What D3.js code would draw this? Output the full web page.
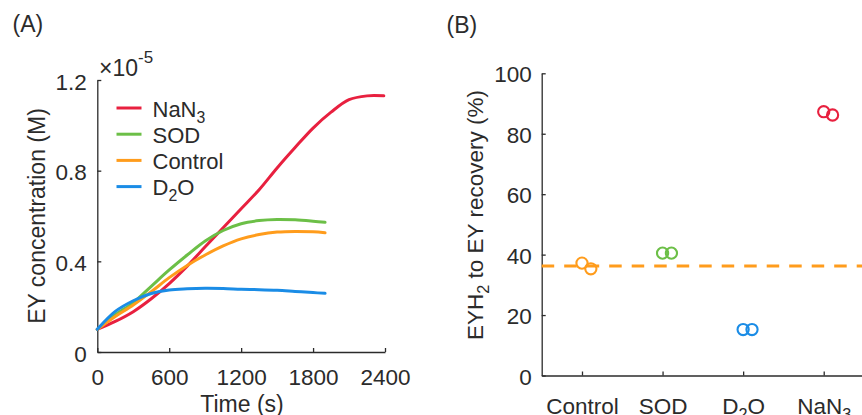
<!DOCTYPE html>
<html>
<head>
<meta charset="utf-8">
<script src="https://cdn.jsdelivr.net/npm/d3@7"></script>
<style>
  html, body { margin: 0; padding: 0; background: #fff; }
  svg { display: block; font-family: "Liberation Sans", Arial, sans-serif; }
</style>
</head>
<body>
<svg id="fig" width="862" height="415"></svg>
<script>
// ---- Panel A: EY concentration over time (values in units of 1e-5 M) ----
const timeShort = [0, 150, 300, 450, 600, 750, 900, 1050, 1200, 1350, 1500, 1650, 1800, 1900];
const timeLong  = [0, 150, 300, 450, 600, 750, 900, 1050, 1200, 1350, 1500, 1650, 1800, 1950, 2100, 2250, 2390];
const nan3Conc    = [0.100, 0.135, 0.178, 0.235, 0.302, 0.379, 0.464, 0.548, 0.632, 0.716, 0.812, 0.902, 0.988, 1.058, 1.113, 1.130, 1.130];
const sodConc     = [0.100, 0.164, 0.218, 0.290, 0.362, 0.428, 0.490, 0.536, 0.566, 0.580, 0.585, 0.583, 0.577, 0.572];
const controlConc = [0.100, 0.157, 0.207, 0.266, 0.328, 0.382, 0.428, 0.468, 0.499, 0.518, 0.529, 0.532, 0.530, 0.526];
const d2oConc     = [0.100, 0.179, 0.226, 0.258, 0.274, 0.279, 0.281, 0.280, 0.277, 0.275, 0.272, 0.267, 0.262, 0.259];
const seriesNames = ["NaN_3", "SOD", "Control", "D_2O"];
const timeTicks = [0, 600, 1200, 1800, 2400];
const concTicks = [0, 0.4, 0.8, 1.2];

// ---- Panel B: EYH2 -> EY recovery (%), two replicates per condition ----
const categories = ["Control", "SOD", "D_2O", "NaN_3"];
const recoveryRep1 = [37.2, 40.5, 15.2, 87.3];
const recoveryRep2 = [35.3, 40.5, 15.2, 86.2];
const recoveryTicks = [0, 20, 40, 60, 80, 100];

const colors = { "NaN_3": "#E8203F", "SOD": "#6CBF47", "Control": "#FF9C1C", "D_2O": "#1A8CE6" };
const ink = "#2b2b2b";
const fontSize = 22.5;

const svg = d3.select("#fig");
svg.append("rect").attr("width", 862).attr("height", 415).attr("fill", "#fff");

// Writes "X_2Y" style strings as text with a lowered, smaller subscript.
function richText(sel, str, size) {
  sel.text(null);
  const parts = str.split(/_(\d)/);
  const shift = size * 0.28;
  let pending = 0;
  parts.forEach((p, i) => {
    if (!p) return;
    if (i % 2 === 1) {
      sel.append("tspan").attr("font-size", size * 0.72).attr("dy", shift + pending).text(p);
      pending = -shift;
    } else {
      const ts = sel.append("tspan").text(p);
      if (pending) ts.attr("dy", pending);
      pending = 0;
    }
  });
}

function styleAxis(g) {
  g.select(".domain").attr("stroke", ink).attr("stroke-width", 1.3);
  g.selectAll(".tick line").attr("stroke", ink).attr("stroke-width", 1.3);
  g.selectAll(".tick text").attr("fill", ink).attr("font-size", fontSize)
    .attr("font-family", "'Liberation Sans', Arial, sans-serif");
}

// ================= Panel A =================
const xA = d3.scaleLinear().domain([0, 2400]).range([97.3, 385]);
const yA = d3.scaleLinear().domain([0, 1.2]).range([352, 80]);

const gA = svg.append("g");

gA.append("g")
  .attr("transform", `translate(0,${yA(0)})`)
  .call(d3.axisBottom(xA).tickValues(timeTicks).tickFormat(d3.format("d"))
    .tickSizeInner(-4).tickSizeOuter(0).tickPadding(0))
  .call(styleAxis)
  .call(g => g.selectAll(".tick text").attr("dy", null).attr("y", 33));

gA.append("g")
  .attr("transform", `translate(${xA(0)},0)`)
  .call(d3.axisLeft(yA).tickValues(concTicks).tickFormat(d => d === 0 ? "0" : d3.format(".1f")(d))
    .tickSizeInner(-4).tickSizeOuter(0).tickPadding(10.5))
  .call(styleAxis)
  .call(g => g.selectAll(".tick text").attr("dy", null).attr("y", 9));

// exponent multiplier above the y axis
const mult = gA.append("text").attr("x", 99).attr("y", 75.5).attr("fill", ink).attr("font-size", 23);
mult.append("tspan").text("\u00D710");
mult.append("tspan").attr("font-size", 17).attr("dy", -13).text("-5");

const lineA = d3.line().x(d => xA(d[0])).y(d => yA(d[1])).curve(d3.curveCatmullRom.alpha(0.5));
const seriesA = [
  { name: "NaN_3", t: timeLong, v: nan3Conc },
  { name: "SOD", t: timeShort, v: sodConc },
  { name: "Control", t: timeShort, v: controlConc },
  { name: "D_2O", t: timeShort, v: d2oConc }
];
seriesA.forEach(s => {
  gA.append("path")
    .datum(s.t.map((t, i) => [t, s.v[i]]))
    .attr("fill", "none")
    .attr("stroke", colors[s.name])
    .attr("stroke-width", 3)
    .attr("stroke-linejoin", "round")
    .attr("stroke-linecap", "round")
    .attr("d", lineA);
});

// legend
const legend = gA.append("g").attr("transform", "translate(116.5,108)");
seriesNames.forEach((name, i) => {
  const row = legend.append("g").attr("transform", `translate(0,${i * 26.2})`);
  row.append("line").attr("x1", 0).attr("x2", 25).attr("stroke", colors[name]).attr("stroke-width", 3);
  const t = row.append("text").attr("x", 36).attr("y", 8.5).attr("fill", ink).attr("font-size", 22);
  richText(t, name, 22);
});

gA.append("text").attr("x", 242).attr("y", 412).attr("text-anchor", "middle")
  .attr("fill", ink).attr("font-size", 23).text("Time (s)");
gA.append("text").attr("transform", "translate(45,216) rotate(-90)").attr("text-anchor", "middle")
  .attr("fill", ink).attr("font-size", 23).text("EY concentration (M)");
gA.append("text").attr("x", 12.5).attr("y", 32).attr("fill", ink).attr("font-size", 23).text("(A)");

// ================= Panel B =================
const xB = d3.scaleLinear().domain([0.5, 4.5]).range([541.7, 864]);
const yB = d3.scaleLinear().domain([0, 100]).range([375.5, 73.3]);
const gB = svg.append("g");

gB.append("g")
  .attr("transform", `translate(0,${yB(0)})`)
  .call(d3.axisBottom(xB).tickValues(d3.range(1, categories.length + 1)).tickFormat(d => categories[d - 1])
    .tickSizeInner(-4).tickSizeOuter(0).tickPadding(0))
  .call(styleAxis)
  .call(g => g.selectAll(".tick text").attr("dy", null).attr("y", 38)
    .each(function (d) { richText(d3.select(this), categories[d - 1], fontSize); }));

gB.append("g")
  .attr("transform", `translate(${xB(0.5)},0)`)
  .call(d3.axisLeft(yB).tickValues(recoveryTicks).tickFormat(d3.format("d"))
    .tickSizeInner(-4).tickSizeOuter(0).tickPadding(10))
  .call(styleAxis)
  .call(g => g.selectAll(".tick text").attr("dy", null).attr("y", 8.5));

// control mean as dashed reference line
const controlMean = (recoveryRep1[0] + recoveryRep2[0]) / 2;
gB.append("line")
  .attr("x1", xB(0.5)).attr("x2", 862)
  .attr("y1", yB(controlMean)).attr("y2", yB(controlMean))
  .attr("stroke", colors["Control"]).attr("stroke-width", 3)
  .attr("stroke-dasharray", "12.5,10");

const jitter = 0.11;
categories.forEach((c, i) => {
  [[recoveryRep1[i], 0], [recoveryRep2[i], jitter]].forEach(([v, dx]) => {
    gB.append("circle")
      .attr("cx", xB(i + 1 + dx)).attr("cy", yB(v)).attr("r", 5.6)
      .attr("fill", "none").attr("stroke", colors[c]).attr("stroke-width", 2.1);
  });
});

const yLabB = gB.append("text").attr("transform", "translate(482.5,215) rotate(-90)")
  .attr("text-anchor", "middle").attr("fill", ink).attr("font-size", 22.5);
richText(yLabB, "EYH_2 to EY recovery (%)", 22.5);
gB.append("text").attr("x", 446.5).attr("y", 33).attr("fill", ink).attr("font-size", 23).text("(B)");
</script>
</body>
</html>
